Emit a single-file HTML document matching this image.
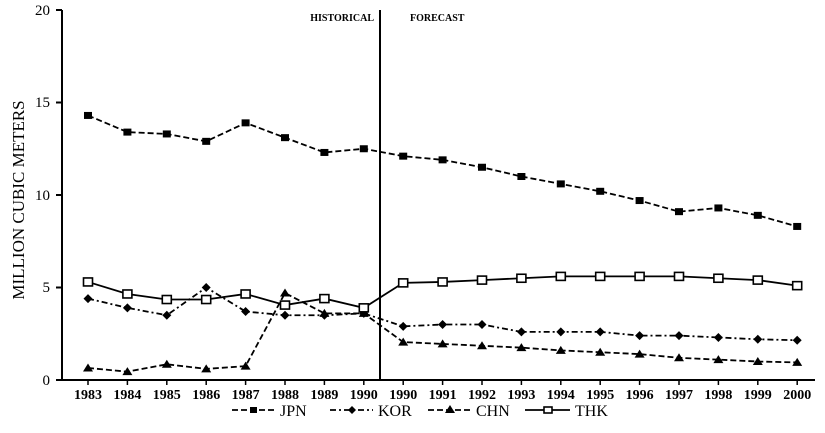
<!DOCTYPE html>
<html><head><meta charset="utf-8"><style>
body{margin:0;background:#fff;}
svg{display:block;font-family:"Liberation Serif",serif;}
</style></head><body>
<svg id="c" width="825" height="433" viewBox="0 0 825 433" xmlns="http://www.w3.org/2000/svg">
<rect width="825" height="433" fill="#fff"/>
<g stroke="#000" stroke-width="2" fill="none">
<line x1="62" y1="10" x2="62" y2="380"/>
<line x1="62" y1="380" x2="815" y2="380"/>
<line x1="380" y1="10" x2="380" y2="380"/>
<line x1="56" y1="10" x2="62" y2="10"/>
<line x1="56" y1="102.5" x2="62" y2="102.5"/>
<line x1="56" y1="195" x2="62" y2="195"/>
<line x1="56" y1="287.5" x2="62" y2="287.5"/>
<line x1="56" y1="380" x2="62" y2="380"/>
</g>
<g font-size="15" text-anchor="end" fill="#000">
<text x="50" y="15">20</text><text x="50" y="107">15</text><text x="50" y="200">10</text><text x="50" y="292">5</text><text x="50" y="385">0</text>
</g>
<text transform="translate(24,200) rotate(-90)" font-size="17" text-anchor="middle">MILLION CUBIC METERS</text>
<text x="374" y="21" font-size="10" font-weight="bold" text-anchor="end">HISTORICAL</text>
<text x="410" y="21" font-size="10" font-weight="bold">FORECAST</text>
<g id="xt" font-size="14" font-weight="bold" text-anchor="middle"></g>
<g id="series"></g>
<g font-size="16">
<line x1="232" y1="410" x2="275" y2="410" stroke="#000" stroke-dasharray="6,3" stroke-width="1.8"/><rect x="250" y="407" width="7" height="6" fill="#000"/><text x="280" y="416">JPN</text>
<line x1="330" y1="410" x2="373" y2="410" stroke="#000" stroke-dasharray="6,3,2,3" stroke-width="1.8"/><path d="M352 406 L356 410 L352 414 L348 410Z" fill="#000"/><text x="378" y="416">KOR</text>
<line x1="428" y1="410" x2="471" y2="410" stroke="#000" stroke-dasharray="6,3" stroke-width="1.8"/><path d="M450 405 L455 413 L445 413Z" fill="#000"/><text x="476" y="416">CHN</text>
<line x1="525" y1="410" x2="570" y2="410" stroke="#000" stroke-width="1.8"/><rect x="544" y="407" width="8" height="6" fill="#fff" stroke="#000" stroke-width="1.6"/><text x="575" y="416">THK</text>
</g>
</svg>
<script>
var ns="http://www.w3.org/2000/svg";
var labels=["1983","1984","1985","1986","1987","1988","1989","1990","1990","1991","1992","1993","1994","1995","1996","1997","1998","1999","2000"];
function X(i){return 88+i*39.4;}
function Y(v){return 380-v*18.5;}
var xt=document.getElementById("xt");
labels.forEach(function(l,i){var t=document.createElementNS(ns,"text");t.setAttribute("x",X(i));t.setAttribute("y",399);t.textContent=l;xt.appendChild(t);
var tk=document.createElementNS(ns,"line");tk.setAttribute("x1",X(i));tk.setAttribute("x2",X(i));tk.setAttribute("y1",380);tk.setAttribute("y2",385);tk.setAttribute("stroke","#000");tk.setAttribute("stroke-width","1.5");xt.appendChild(tk);});
var S=[
{d:[14.3,13.4,13.3,12.9,13.9,13.1,12.3,12.5,12.1,11.9,11.5,11.0,10.6,10.2,9.7,9.1,9.3,8.9,8.3],dash:"6,3",m:"sq"},
{d:[4.4,3.9,3.5,5.0,3.7,3.5,3.5,3.6,2.9,3.0,3.0,2.6,2.6,2.6,2.4,2.4,2.3,2.2,2.15],dash:"6,3,2,3",m:"di"},
{d:[0.65,0.45,0.85,0.6,0.75,4.7,3.6,3.6,2.05,1.95,1.85,1.75,1.6,1.5,1.4,1.2,1.1,1.0,0.95],dash:"6,3",m:"tr"},
{d:[5.3,4.65,4.35,4.35,4.65,4.05,4.4,3.9,5.25,5.3,5.4,5.5,5.6,5.6,5.6,5.6,5.5,5.4,5.1],dash:"",m:"os"}];
var g=document.getElementById("series");
S.forEach(function(s){var p="";s.d.forEach(function(v,i){p+=(i?"L":"M")+X(i)+" "+Y(v)+" ";});
var path=document.createElementNS(ns,"path");path.setAttribute("d",p);path.setAttribute("fill","none");path.setAttribute("stroke","#000");path.setAttribute("stroke-width","1.8");if(s.dash)path.setAttribute("stroke-dasharray",s.dash);g.appendChild(path);
s.d.forEach(function(v,i){var x=X(i),y=Y(v),e;
if(s.m=="sq"){e=document.createElementNS(ns,"rect");e.setAttribute("x",x-4);e.setAttribute("y",y-3.5);e.setAttribute("width",8);e.setAttribute("height",7);e.setAttribute("fill","#000");}
else if(s.m=="os"){e=document.createElementNS(ns,"rect");e.setAttribute("x",x-4.5);e.setAttribute("y",y-4);e.setAttribute("width",9);e.setAttribute("height",8);e.setAttribute("fill","#fff");e.setAttribute("stroke","#000");e.setAttribute("stroke-width","1.6");}
else if(s.m=="di"){e=document.createElementNS(ns,"path");e.setAttribute("d","M"+x+" "+(y-4.5)+" L"+(x+4.5)+" "+y+" L"+x+" "+(y+4.5)+" L"+(x-4.5)+" "+y+"Z");e.setAttribute("fill","#000");}
else {e=document.createElementNS(ns,"path");e.setAttribute("d","M"+x+" "+(y-4.5)+" L"+(x+5)+" "+(y+3.5)+" L"+(x-5)+" "+(y+3.5)+"Z");e.setAttribute("fill","#000");}
g.appendChild(e);});});
</script>
</body></html>
